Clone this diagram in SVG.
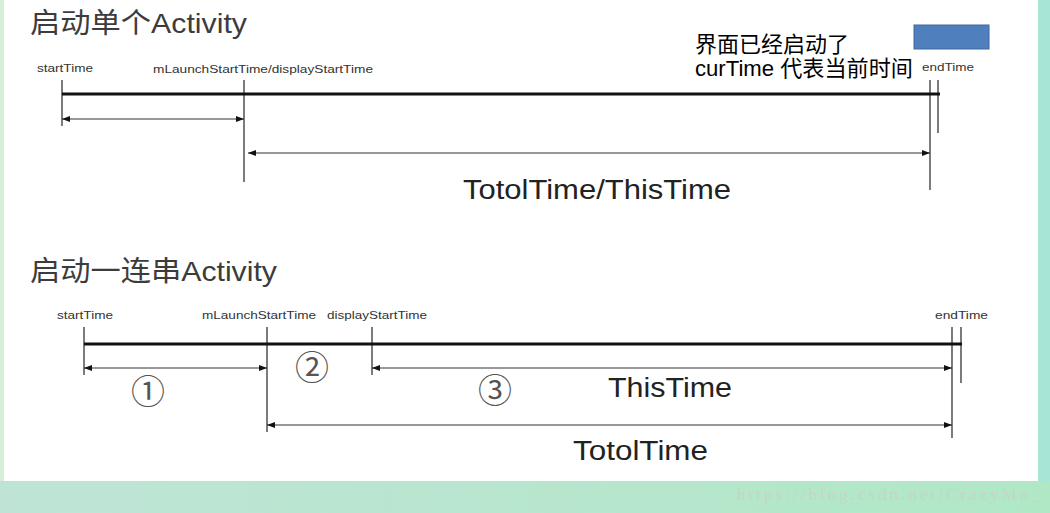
<svg xmlns="http://www.w3.org/2000/svg" width="1050" height="513" viewBox="0 0 1050 513">
<defs>
<linearGradient id="bottomGrad" x1="0" y1="0" x2="1" y2="0">
<stop offset="0" stop-color="#bfe4d6"/>
<stop offset="1" stop-color="#b0e8c6"/>
</linearGradient>
<marker id="ah" viewBox="0 0 8 6" refX="8" refY="3" markerWidth="8" markerHeight="6" markerUnits="userSpaceOnUse" orient="auto-start-reverse">
<path d="M0,0 L8,3 L0,6 z" fill="#111"/>
</marker>
<style>
.title{font-family:"Liberation Sans","Noto Sans CJK SC",sans-serif;font-size:28px;fill:#3c3c3c}
.lbl{font-family:"Liberation Sans",Arial,sans-serif;font-size:11px;fill:#333}
.big{font-family:"Liberation Sans",Arial,sans-serif;font-size:27px;fill:#222}
.circ{font-family:"Noto Sans CJK SC","DejaVu Sans",sans-serif;font-size:34px;fill:#555;text-anchor:middle}
.note{font-family:"Liberation Sans","Noto Sans CJK SC",sans-serif;font-size:22px;fill:#000}
.main{stroke:#111;stroke-width:3}
.tick{stroke:#444;stroke-width:1.4}
.arr{stroke:#333;stroke-width:1.2;marker-start:url(#ah);marker-end:url(#ah)}
</style>
</defs>
<!-- background -->
<rect x="0" y="0" width="1050" height="513" fill="#ffffff"/>
<rect x="0" y="0" width="4" height="481" fill="#d6efd9"/>
<rect x="1038" y="0" width="12" height="513" fill="#a7e6d7"/>
<rect x="0" y="481" width="1050" height="32" fill="url(#bottomGrad)"/>
<text x="737" y="500" font-family="Liberation Serif,serif" font-size="17" fill="#c4d6c6" textLength="303" lengthAdjust="spacing">https://blog.csdn.net/CrazyMo_</text>

<!-- top section -->
<g id="title1"><text class="title" x="30" y="33" textLength="217" lengthAdjust="spacingAndGlyphs">启动单个Activity</text></g>
<g id="note">
<rect x="914" y="25" width="75" height="24" fill="#4f7fbc" stroke="#41699c" stroke-width="1"/>
<text class="note" x="695" y="52">界面已经启动了</text>
<text class="note" x="695" y="76" textLength="218" lengthAdjust="spacingAndGlyphs">curTime 代表当前时间</text>
</g>
<g id="t1-start"><text class="lbl" x="37" y="72" textLength="56" lengthAdjust="spacingAndGlyphs">startTime</text><line class="tick" x1="62" y1="80" x2="62" y2="126"/></g>
<g id="t1-launch"><text class="lbl" x="153" y="73" textLength="220" lengthAdjust="spacingAndGlyphs">mLaunchStartTime/displayStartTime</text><line class="tick" x1="244" y1="80" x2="244" y2="182"/></g>
<g id="t1-end"><text class="lbl" x="922" y="71" font-size="10" textLength="52" lengthAdjust="spacingAndGlyphs">endTime</text><line class="tick" x1="930" y1="80" x2="930" y2="190"/><line class="tick" x1="938" y1="80" x2="938" y2="133"/></g>
<g id="t1-label"><text class="big" x="463" y="199" font-size="26" textLength="268" lengthAdjust="spacingAndGlyphs">TotolTime/ThisTime</text></g>

<!-- bottom section -->
<g id="title2"><text class="title" x="30" y="281" textLength="247" lengthAdjust="spacingAndGlyphs">启动一连串Activity</text></g>
<g id="t2-start"><text class="lbl" x="57" y="319" textLength="56" lengthAdjust="spacingAndGlyphs">startTime</text><line class="tick" x1="84" y1="327" x2="84" y2="375"/></g>
<g id="t2-launch"><text class="lbl" x="202" y="319" textLength="114" lengthAdjust="spacingAndGlyphs">mLaunchStartTime</text><line class="tick" x1="267" y1="327" x2="267" y2="432"/></g>
<g id="t2-display"><text class="lbl" x="327" y="319" textLength="100" lengthAdjust="spacingAndGlyphs">displayStartTime</text><line class="tick" x1="372" y1="327" x2="372" y2="375"/></g>
<g id="t2-end"><text class="lbl" x="935" y="319" textLength="53" lengthAdjust="spacingAndGlyphs">endTime</text><line class="tick" x1="952" y1="327" x2="952" y2="438"/><line class="tick" x1="961" y1="327" x2="961" y2="383"/></g>
<g id="t2-labels">
<text class="circ" x="148" y="404">①</text>
<text class="circ" x="312" y="380">②</text>
<text class="circ" x="495" y="403" font-size="31">③</text>
<text class="big" x="608" y="397" textLength="124" lengthAdjust="spacingAndGlyphs">ThisTime</text>
<text class="big" x="573" y="460" textLength="135" lengthAdjust="spacingAndGlyphs">TotolTime</text>
</g>

<!-- connectors -->
<g id="connectors">
<line class="main" x1="62" y1="94" x2="940" y2="94"/>
<line class="arr" x1="62" y1="119" x2="244" y2="119"/>
<line class="arr" x1="248" y1="153" x2="930" y2="153"/>
<line class="main" x1="84" y1="344" x2="962" y2="344"/>
<line class="arr" x1="84" y1="368" x2="267" y2="368"/>
<line class="arr" x1="372" y1="368" x2="952" y2="368"/>
<line class="arr" x1="267" y1="425" x2="952" y2="425"/>
</g>
</svg>
